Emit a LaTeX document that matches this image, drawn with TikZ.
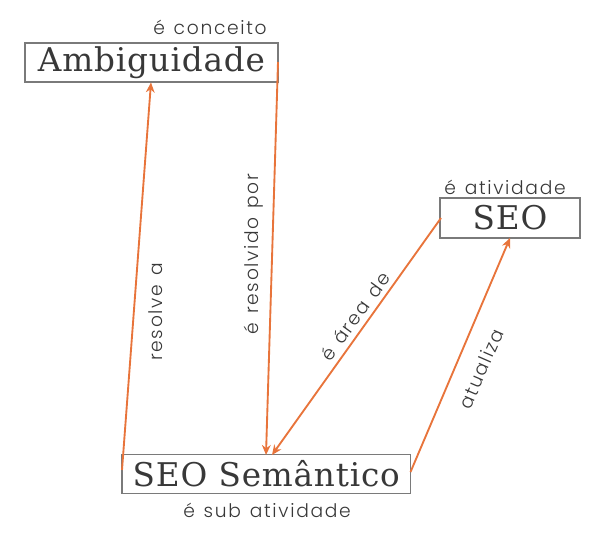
\documentclass[tikz,border=0pt]{standalone}
\usepackage{fontspec}
\usetikzlibrary{arrows.meta}
\newfontfamily\boxfont[LetterSpace=2.5]{DejaVu Serif}
\IfFontExistsTF{Poppins Light}
  {\newfontfamily\labfont[LetterSpace=9,WordSpace=1.3]{Poppins Light}}
  {\newfontfamily\labfont[LetterSpace=9,WordSpace=1.3]{Poppins}}
\definecolor{arr}{HTML}{E8743B}
\definecolor{txt}{HTML}{383838}
\definecolor{bord}{HTML}{7A7A7A}
\begin{document}
\begin{tikzpicture}[x=0.75pt,y=-0.75pt,
  concept/.style={draw=bord,line width=0.8pt,inner sep=0pt,text=txt,font=\boxfont\fontsize{24.5}{28}\selectfont},
  lab/.style={text=txt,font=\labfont\fontsize{14}{16}\selectfont,inner sep=0pt},
  link/.style={draw=arr,line width=1.4pt,-{Stealth[length=7.5pt,width=6.5pt]}}]
\useasboundingbox (0,0) rectangle (600,548);
\node[concept,minimum width=189.75pt,minimum height=29.25pt] (amb) at (151.5,62.5) {Ambiguidade};
\node[concept,minimum width=105pt,minimum height=30pt] (seo) at (510,218) {SEO};
\node[concept,minimum width=216.5pt,minimum height=29.25pt] (sem) at (266.3,474) {SEO Semântico};
\node[lab] (lamb) at (210,27) {é conceito};
\node[lab] (lseo) at (505,187) {é atividade};
\node[lab] (lsem) at (267,510) {é sub atividade};
\coordinate (s1) at (122,470);
\coordinate (e1) at (151,82.5);
\coordinate (s2) at (278,62);
\coordinate (e2) at (266,455);
\coordinate (s3) at (441,218);
\coordinate (e3) at (272,455);
\coordinate (s4) at (410.5,472);
\coordinate (e4) at (510,238);
\draw[link] (s1) -- (e1);
\draw[link] (s2) -- (e2);
\draw[link] (s3) -- (e3);
\draw[link] (s4) -- (e4);
\node[lab,rotate=90] (l1) at (156,312) {resolve a};
\node[lab,rotate=90] (l2) at (254,254) {é resolvido por};
\node[lab,rotate=54] (l3) at (355,316) {é área de};
\node[lab,rotate=66.5] (l4) at (481,369) {atualiza};
\end{tikzpicture}
\end{document}
